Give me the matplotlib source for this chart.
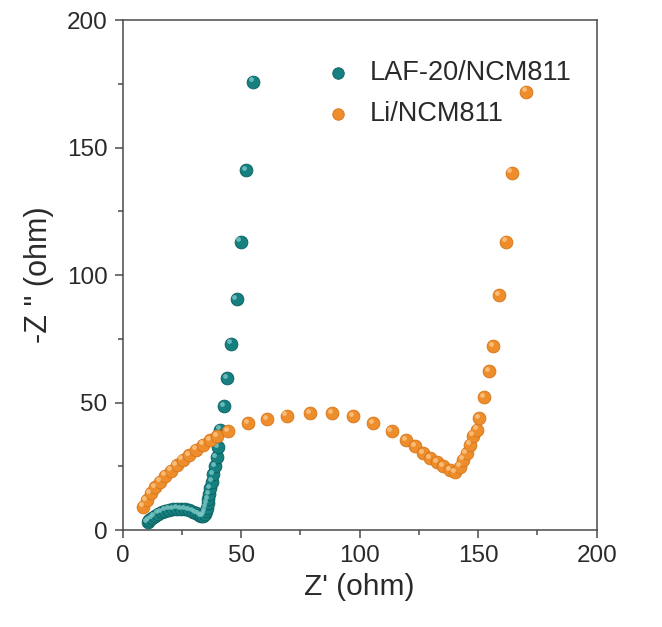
import matplotlib
matplotlib.use('Agg')
import matplotlib.pyplot as plt
from matplotlib.transforms import offset_copy
from matplotlib.ticker import MultipleLocator

# LAF-20/NCM811 Nyquist points (Z', -Z'')
laf_x = [10.5, 11.3, 12.3, 13.5, 14.9, 16.4, 18.0, 19.7, 21.4, 23.1, 24.8, 26.5,
         28.1, 29.6, 31.0, 32.2, 33.2, 34.0, 34.6, 35.0, 35.4, 35.8, 36.2, 36.6,
         37.0, 37.6, 38.2, 38.9, 39.6, 40.4, 41.1, 42.7, 43.9, 45.6, 48.1, 49.8,
         52.0, 55.1]
laf_y = [3.0, 3.9, 4.8, 5.6, 6.4, 7.1, 7.6, 8.0, 8.3, 8.4, 8.3, 8.1,
         7.7, 7.2, 6.6, 6.0, 5.6, 5.5, 6.2, 7.4, 8.8, 10.4, 12.2, 14.2,
         16.4, 19.0, 22.0, 25.2, 28.6, 32.5, 39.4, 48.5, 59.7, 73.1, 90.6, 113.1,
         141.3, 175.9]

# Li/NCM811 Nyquist points
li_x = [8.7, 10.1, 11.8, 13.6, 15.7, 17.8, 20.3, 22.8, 25.3, 28.1, 30.9, 34.0,
        36.8, 39.7, 44.6, 53.0, 60.8, 69.2, 79.0, 88.2, 97.3, 105.7, 113.5, 119.5,
        123.3, 126.8, 129.7, 132.5, 135.3, 138.1, 140.2, 142.3, 143.7, 145.1, 146.5,
        147.9, 149.4, 150.5, 152.4, 154.7, 156.4, 158.9, 161.7, 164.1, 170.2]
li_y = [9.2, 11.8, 14.4, 16.8, 19.0, 21.3, 23.3, 25.5, 27.6, 29.5, 31.5, 33.5,
        35.2, 36.7, 38.7, 42.0, 43.6, 44.9, 45.7, 45.7, 44.6, 42.0, 38.7, 35.4,
        32.8, 30.2, 28.2, 26.5, 25.2, 23.6, 22.6, 24.9, 27.6, 30.2, 33.5,
        37.0, 39.4, 44.0, 52.2, 62.3, 72.2, 92.1, 113.1, 140.2, 171.9]

plt.rcParams['font.family'] = ['Liberation Sans', 'DejaVu Sans']

fig = plt.figure(figsize=(6.62, 6.27), dpi=100)
ax = fig.add_axes([0.1853, 0.1547, 0.9014 - 0.1853, 0.968 - 0.1547])

teal, teal_edge, teal_hi = '#15807f', '#0b5e5e', '#7cc9c8'
orange, orange_edge, orange_hi = '#ee8d2c', '#d67519', '#fcc88a'

hi_tr = offset_copy(ax.transData, fig=fig, x=-1.6, y=1.6, units='points')

ax.scatter(laf_x, laf_y, s=85, color=teal, edgecolors=teal_edge, linewidths=0.6,
           zorder=3, label='LAF-20/NCM811')
ax.scatter(laf_x, laf_y, s=12, color=teal_hi, linewidths=0, alpha=0.8,
           transform=hi_tr, zorder=4)
ax.scatter(li_x, li_y, s=85, color=orange, edgecolors=orange_edge, linewidths=0.6,
           zorder=5, label='Li/NCM811')
ax.scatter(li_x, li_y, s=12, color=orange_hi, linewidths=0, alpha=0.8,
           transform=hi_tr, zorder=6)

ax.set_xlim(0, 200)
ax.set_ylim(0, 200)
ax.xaxis.set_major_locator(MultipleLocator(50))
ax.yaxis.set_major_locator(MultipleLocator(50))
ax.xaxis.set_minor_locator(MultipleLocator(25))
ax.yaxis.set_minor_locator(MultipleLocator(25))

spine_c = '#4a4a4a'
for sp in ax.spines.values():
    sp.set_color(spine_c)
    sp.set_linewidth(1.1)
ax.tick_params(which='both', direction='out', color=spine_c, width=1.1,
               top=False, right=False)
ax.tick_params(which='major', length=6, labelsize=17.5, labelcolor='#2a2a2a', pad=5)
ax.tick_params(which='minor', length=3.5)

ax.set_xlabel("Z' (ohm)", fontsize=21.5, color='#2a2a2a', labelpad=4)
ax.set_ylabel('-Z " (ohm)', fontsize=22, color='#2a2a2a', labelpad=9)

leg = ax.legend(loc='upper left', bbox_to_anchor=(0.426, 0.921), frameon=False,
                fontsize=19.5, handlelength=1.0, handletextpad=0.68, labelspacing=0.55,
                borderpad=0, borderaxespad=0, scatterpoints=1, markerscale=0.9)
for t in leg.get_texts():
    t.set_color('#2a2a2a')

fig.savefig('out.png', dpi=100)
